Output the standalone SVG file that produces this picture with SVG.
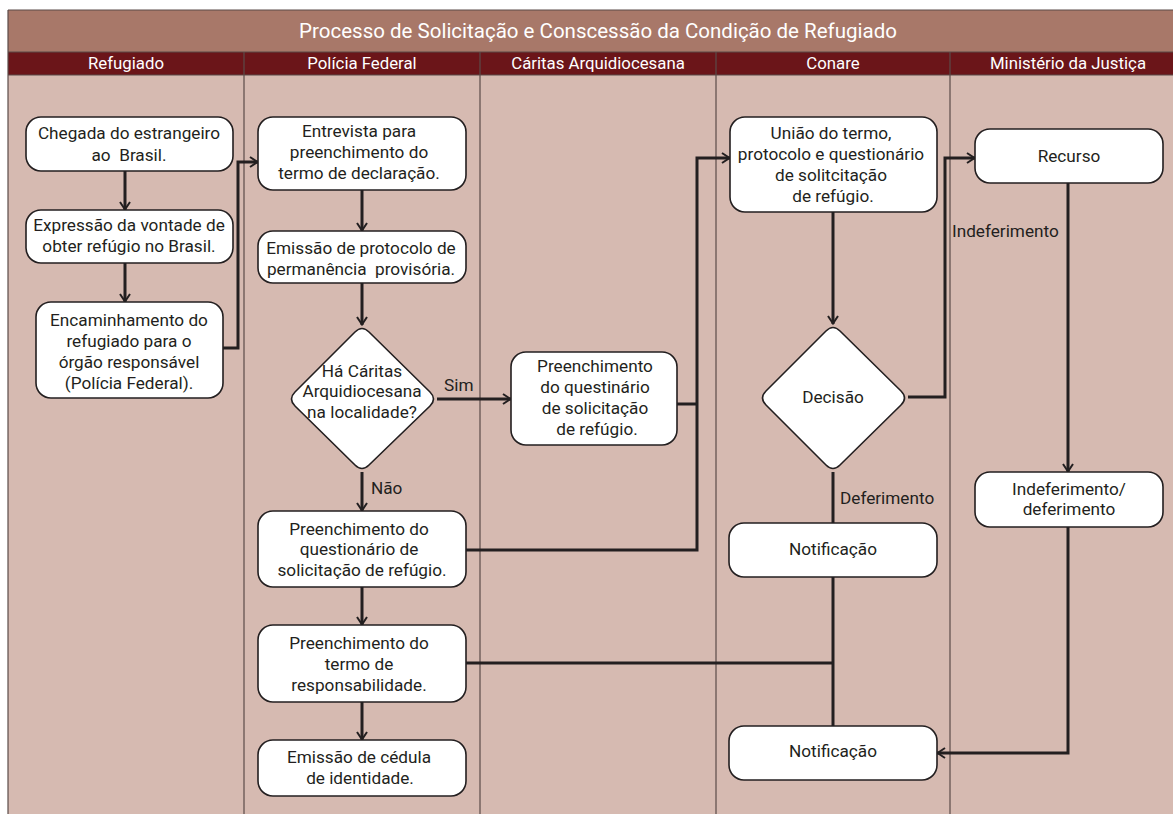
<svg xmlns="http://www.w3.org/2000/svg" width="1173" height="814" viewBox="0 0 1173 814">
<style>
.t{font-family:Roboto,"Liberation Sans",sans-serif;font-size:17.2px;fill:#231f20;text-anchor:middle}
.lbl{font-family:Roboto,"Liberation Sans",sans-serif;font-size:17.2px;fill:#231f20}
.hd{font-family:Roboto,"Liberation Sans",sans-serif;font-size:16.8px;fill:#ffffff;text-anchor:middle}
.ttl{font-family:Roboto,"Liberation Sans",sans-serif;font-size:20.5px;fill:#ffffff;text-anchor:middle}
.box{fill:#ffffff;stroke:#231f20;stroke-width:1.6}
.sep{stroke:#5b4b48;stroke-width:1.2}
.c{fill:none;stroke:#231f20;stroke-width:3}
</style>
<defs>
<marker id="ah" viewBox="0 0 10 12" refX="9.5" refY="6" markerWidth="10" markerHeight="12" markerUnits="userSpaceOnUse" orient="auto">
<path d="M1.5,1 L9,6 L1.5,11" fill="none" stroke="#231f20" stroke-width="2"/>
</marker>
</defs>
<rect x="0" y="0" width="1173" height="814" fill="#ffffff"/>
<g id="lanes">
<rect x="8" y="10" width="1165" height="804" fill="#d6bab1"/>
<rect x="8" y="10" width="1165" height="42" fill="#a87869"/>
<rect x="8" y="52" width="1165" height="23" fill="#6b1519"/>
<line x1="8" y1="10" x2="1173" y2="10" class="sep"/>
<line x1="8" y1="52" x2="1173" y2="52" class="sep"/>
<line x1="8" y1="75" x2="1173" y2="75" class="sep"/>
<line x1="8" y1="10" x2="8" y2="814" class="sep"/>
<line x1="244" y1="52" x2="244" y2="814" class="sep"/>
<line x1="480" y1="52" x2="480" y2="814" class="sep"/>
<line x1="716" y1="52" x2="716" y2="814" class="sep"/>
<line x1="950" y1="52" x2="950" y2="814" class="sep"/>
<text class="ttl" x="598" y="38">Processo de Solicitação e Conscessão da Condição de Refugiado</text>
<text class="hd" x="126" y="69">Refugiado</text>
<text class="hd" x="362" y="69">Polícia Federal</text>
<text class="hd" x="598" y="69">Cáritas Arquidiocesana</text>
<text class="hd" x="833" y="69">Conare</text>
<text class="hd" x="1068" y="69">Ministério da Justiça</text>
</g>
<g id="connectors">
<path class="c" d="M125,171 V210" marker-end="url(#ah)"/>
<path class="c" d="M125,263 V302" marker-end="url(#ah)"/>
<path class="c" d="M223,348 H238 V162 H258" marker-end="url(#ah)"/>
<path class="c" d="M362,190 V231" marker-end="url(#ah)"/>
<path class="c" d="M362,283 V325" marker-end="url(#ah)"/>
<path class="c" d="M437,399 H511" marker-end="url(#ah)"/>
<path class="c" d="M362,472 V511" marker-end="url(#ah)"/>
<path class="c" d="M677,404 H697"/>
<path class="c" d="M466,550 H697 V158 H730" marker-end="url(#ah)"/>
<path class="c" d="M362,587 V625" marker-end="url(#ah)"/>
<path class="c" d="M362,702 V740" marker-end="url(#ah)"/>
<path class="c" d="M833,212 V324" marker-end="url(#ah)"/>
<path class="c" d="M908,397 H945 V158 H975" marker-end="url(#ah)"/>
<path class="c" d="M1068,183 V472" marker-end="url(#ah)"/>
<path class="c" d="M833,472 V523"/>
<path class="c" d="M833,577 V726"/>
<path class="c" d="M466,663 H833"/>
<path class="c" d="M1068,527 V753 H937" marker-end="url(#ah)"/>
<text class="lbl" x="444" y="391">Sim</text>
<text class="lbl" x="371" y="494">Não</text>
<text class="lbl" x="840" y="504">Deferimento</text>
<text class="lbl" x="952" y="237">Indeferimento</text>
</g>
<g id="n1">
<rect class="box" x="26" y="117" width="207" height="54" rx="15"/>
<text class="t" x="129" y="139">Chegada do estrangeiro</text>
<text class="t" x="129" y="161" xml:space="preserve">ao  Brasil.</text>
</g>
<g id="n2">
<rect class="box" x="26" y="210" width="207" height="53" rx="15"/>
<text class="t" x="129" y="231">Expressão da vontade de</text>
<text class="t" x="129" y="252">obter refúgio no Brasil.</text>
</g>
<g id="n3">
<rect class="box" x="36" y="302" width="187" height="96" rx="15"/>
<text class="t" x="129" y="326">Encaminhamento do</text>
<text class="t" x="129" y="347">refugiado para o</text>
<text class="t" x="129" y="368">órgão responsável</text>
<text class="t" x="129" y="389">(Polícia Federal).</text>
</g>
<g id="n4">
<rect class="box" x="258" y="117" width="208" height="73" rx="15"/>
<text class="t" x="359" y="137">Entrevista para</text>
<text class="t" x="359" y="158">preenchimento do</text>
<text class="t" x="359" y="179">termo de declaração.</text>
</g>
<g id="n5">
<rect class="box" x="258" y="231" width="208" height="52" rx="15"/>
<text class="t" x="361" y="254">Emissão de protocolo de</text>
<text class="t" x="361" y="275" xml:space="preserve">permanência  provisória.</text>
</g>
<g id="n6">
<path class="box" d="M355,332 Q362,325 369,332 L430,392 Q437,399 430,406 L369,465 Q362,472 355,465 L295,406 Q288,399 295,392 Z"/>
<text class="t" x="362" y="377">Há Cáritas</text>
<text class="t" x="362" y="397">Arquidiocesana</text>
<text class="t" x="362" y="418">na localidade?</text>
</g>
<g id="n7">
<rect class="box" x="511" y="352" width="166" height="93" rx="15"/>
<text class="t" x="595" y="372">Preenchimento</text>
<text class="t" x="595" y="393">do questinário</text>
<text class="t" x="595" y="414">de solicitação</text>
<text class="t" x="597" y="435">de refúgio.</text>
</g>
<g id="n8">
<rect class="box" x="258" y="511" width="208" height="76" rx="15"/>
<text class="t" x="359" y="535">Preenchimento do</text>
<text class="t" x="359" y="555">questionário de</text>
<text class="t" x="362" y="576">solicitação de refúgio.</text>
</g>
<g id="n9">
<rect class="box" x="258" y="625" width="208" height="77" rx="15"/>
<text class="t" x="359" y="649">Preenchimento do</text>
<text class="t" x="359" y="670">termo de</text>
<text class="t" x="359" y="691">responsabilidade.</text>
</g>
<g id="n10">
<rect class="box" x="258" y="740" width="208" height="56" rx="15"/>
<text class="t" x="359" y="763">Emissão de cédula</text>
<text class="t" x="360" y="784">de identidade.</text>
</g>
<g id="n11">
<rect class="box" x="730" y="117" width="207" height="95" rx="15"/>
<text class="t" x="831" y="139">União do termo,</text>
<text class="t" x="831" y="160">protocolo e questionário</text>
<text class="t" x="831" y="181">de solitcitação</text>
<text class="t" x="833" y="202">de refúgio.</text>
</g>
<g id="n12">
<path class="box" d="M826,331 Q833,324 840,331 L901,391 Q908,398 901,405 L840,465 Q833,472 826,465 L766,405 Q759,398 766,391 Z"/>
<text class="t" x="833" y="403">Decisão</text>
</g>
<g id="n13">
<rect class="box" x="729" y="523" width="208" height="54" rx="15"/>
<text class="t" x="833" y="555">Notificação</text>
</g>
<g id="n14">
<rect class="box" x="729" y="726" width="208" height="54" rx="15"/>
<text class="t" x="833" y="757">Notificação</text>
</g>
<g id="n15">
<rect class="box" x="975" y="129" width="188" height="54" rx="15"/>
<text class="t" x="1069" y="162">Recurso</text>
</g>
<g id="n16">
<rect class="box" x="975" y="472" width="188" height="55" rx="15"/>
<text class="t" x="1069" y="495">Indeferimento/</text>
<text class="t" x="1069" y="515">deferimento</text>
</g>
</svg>
